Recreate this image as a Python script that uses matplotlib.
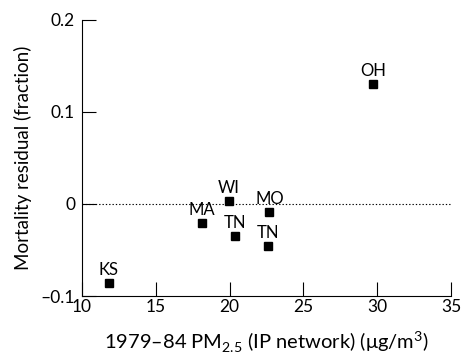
import matplotlib
matplotlib.use("Agg")
from matplotlib import pyplot as plt

states = ["KS", "MA", "WI", "TN", "MO", "TN", "OH"]
pm25 = [11.8, 18.1, 19.95, 20.4, 22.7, 22.6, 29.75]
residual = [-0.086, -0.021, 0.003, -0.035, -0.009, -0.046, 0.130]

plt.rcParams['font.family'] = ['Lato', 'DejaVu Sans']
plt.rcParams['mathtext.fontset'] = 'custom'
plt.rcParams['mathtext.rm'] = 'Lato'

fig = plt.figure(figsize=(4.63, 3.56), dpi=100)
ax = fig.add_axes([0.177, 0.1685, 0.797, 0.7755])

ax.axhline(0, color='black', linestyle=(0, (1.2, 1.8)), linewidth=0.8, zorder=1)
ax.plot(pm25, residual, linestyle='none', marker='s', markersize=5.5,
        color='black', zorder=3)
for name, x, y in zip(states, pm25, residual):
    ax.annotate(name, (x, y), xytext=(0, 3.5), textcoords='offset points',
                ha='center', va='bottom', fontsize=12)

ax.set_xlim(10, 35)
ax.set_ylim(-0.1, 0.2)
ax.set_xticks([10, 15, 20, 25, 30, 35])
ax.set_yticks([-0.1, 0, 0.1, 0.2])
ax.set_yticklabels(['\u20130.1', '0', '0.1', '0.2'])
ax.tick_params(direction='in', length=10, width=0.8, labelsize=12.5)
ax.tick_params(axis='x', pad=2)
ax.tick_params(axis='y', pad=5)
ax.spines['top'].set_visible(False)
ax.spines['right'].set_visible(False)
ax.set_xlabel('1979\u201384 PM$_{2.5}$ (IP network) (\u03bcg/m$^3$)', fontsize=14.5, labelpad=11)
ax.set_ylabel('Mortality residual (fraction)', fontsize=13.5, labelpad=6)

fig.savefig('out.png', dpi=100)
